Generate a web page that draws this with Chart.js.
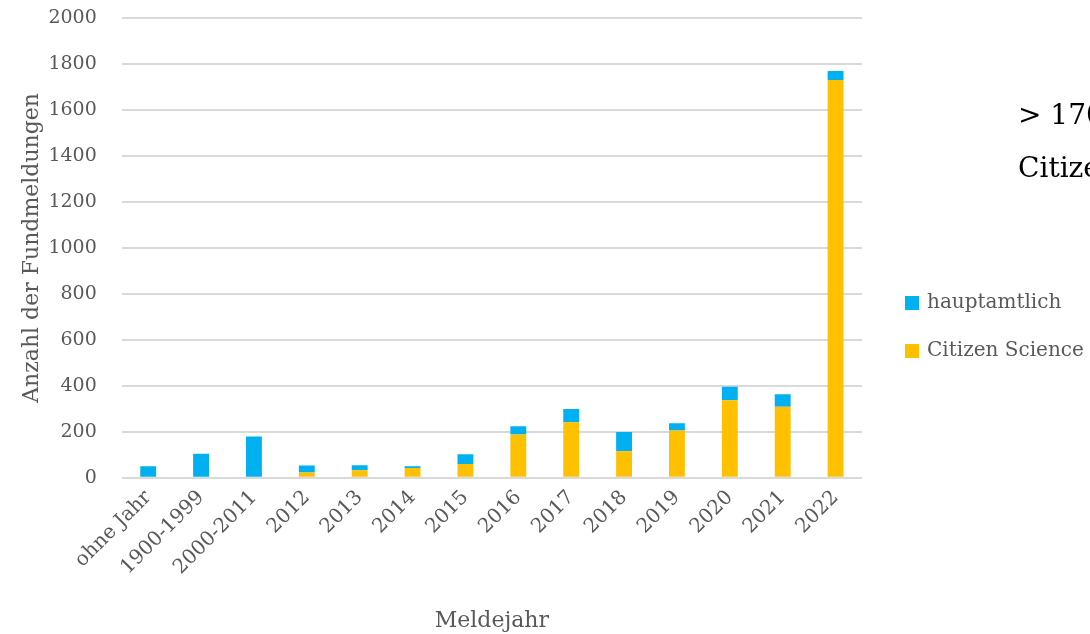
<!DOCTYPE html>
<html>
<head>
<meta charset="utf-8">
<script src="https://cdn.jsdelivr.net/npm/chart.js@4"></script>
<style>
  html, body { margin: 0; padding: 0; background: #fff; overflow: hidden; }
</style>
</head>
<body>
<canvas id="fundChart" width="1090" height="634"></canvas>
<script>
// Fundmeldungen nach Meldejahr
const years = ['ohne Jahr', '1900-1999', '2000-2011', '2012', '2013', '2014', '2015',
               '2016', '2017', '2018', '2019', '2020', '2021', '2022'];
const citizenScience = [0, 0, 0, 23, 33, 43, 60, 189, 242, 116, 206, 338, 309, 1730];
const hauptamtlich   = [50, 105, 180, 31, 22, 8, 43, 36, 57, 83, 32, 58, 55, 39];
const yTicks = [0, 200, 400, 600, 800, 1000, 1200, 1400, 1600, 1800, 2000];

const FONT = "'DejaVu Serif', 'Liberation Serif', serif";
const GREY = '#595959';

// Legende und Hinweistext rechts
const sideTextPlugin = {
    id: 'sideText',
    afterDraw(chart) {
        const ctx = chart.ctx;
        ctx.save();
        ctx.font = '20px ' + FONT;
        ctx.textBaseline = 'middle';
        const items = [chart.data.datasets[1], chart.data.datasets[0]];
        items.forEach((ds, i) => {
            const y = 303 + i * 48;
            ctx.fillStyle = ds.backgroundColor;
            ctx.fillRect(905, y - 7, 14, 14);
            ctx.fillStyle = GREY;
            ctx.fillText(ds.label, 927, y);
        });
        ctx.fillStyle = '#000';
        ctx.font = '28px ' + FONT;
        ctx.fillText('> 1700 Fundmeldungen durch', 1018, 117);
        ctx.fillText('Citizen Science', 1018, 170);
        ctx.restore();
    }
};

new Chart(document.getElementById('fundChart'), {
    type: 'bar',
    data: {
        labels: years,
        datasets: [
            { label: 'Citizen Science', data: citizenScience, backgroundColor: '#FFC000' },
            { label: 'hauptamtlich', data: hauptamtlich, backgroundColor: '#00B0F0' }
        ]
    },
    options: {
        responsive: false,
        animation: false,
        devicePixelRatio: 1,
        layout: { padding: { top: 18, right: 228, bottom: 0, left: 15 } },
        plugins: { legend: { display: false }, tooltip: { enabled: false } },
        datasets: { bar: { categoryPercentage: 1, barPercentage: 0.3 } },
        scales: {
            x: {
                stacked: true,
                grid: { display: false },
                border: { display: false },
                ticks: {
                    color: GREY, font: { family: FONT, size: 20 },
                    minRotation: 45, maxRotation: 45, padding: 0
                },
                title: {
                    display: true, text: 'Meldejahr', color: GREY,
                    font: { family: FONT, size: 22 }, padding: { top: 28, bottom: 0 }
                }
            },
            y: {
                stacked: true,
                min: 0, max: 2000,
                afterBuildTicks(scale) { scale.ticks = yTicks.map(v => ({ value: v })); },
                grid: {
                    color: '#D9D9D9', lineWidth: 2,
                    drawTicks: true, tickLength: 24, tickColor: 'rgba(0,0,0,0)'
                },
                border: { display: false },
                ticks: {
                    color: GREY, font: { family: FONT, size: 19 }, padding: 1,
                    callback: v => String(v)
                },
                title: {
                    display: true, text: 'Anzahl der Fundmeldungen', color: GREY,
                    font: { family: FONT, size: 22 }, padding: { top: 4, bottom: 2 }
                }
            }
        }
    },
    plugins: [sideTextPlugin]
});
</script>
</body>
</html>
